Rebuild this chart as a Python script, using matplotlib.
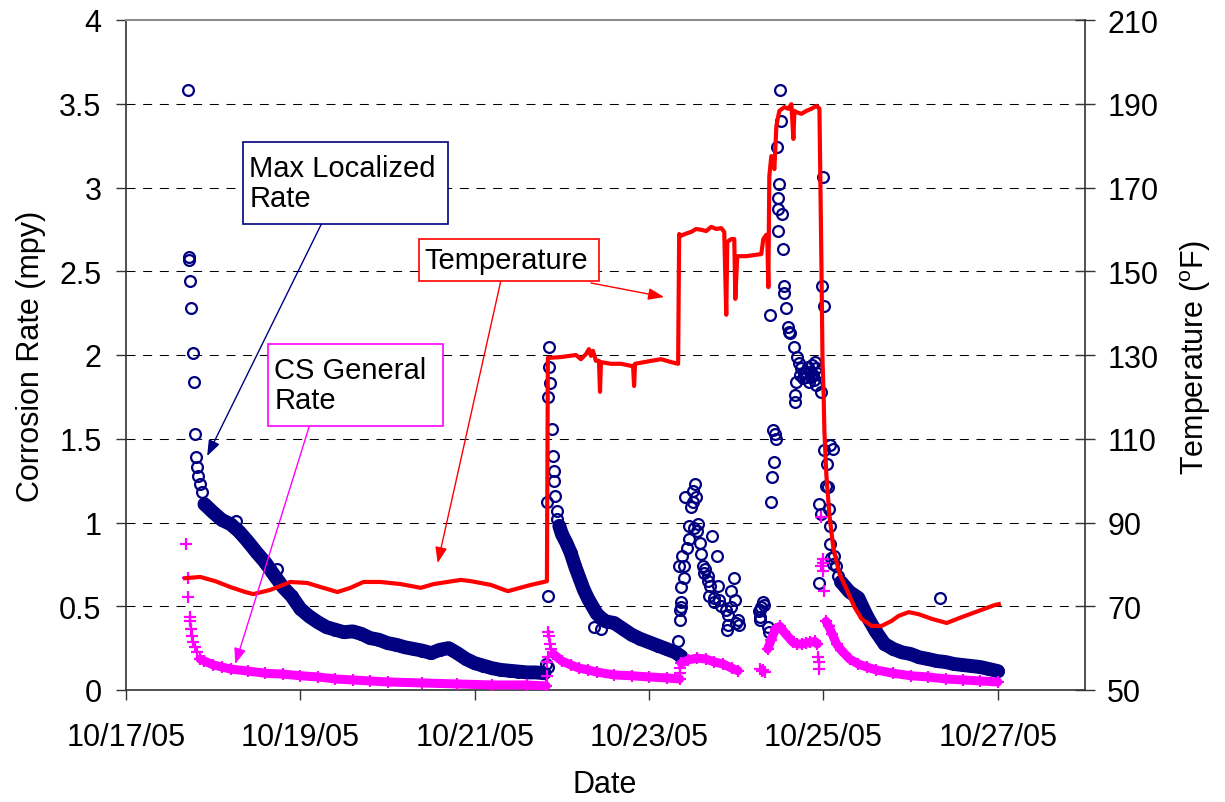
import numpy as np
import matplotlib
matplotlib.use("Agg")
import matplotlib.pyplot as plt
import matplotlib.dates as mdates
from matplotlib.patches import Rectangle

plt.rcParams['font.family'] = ['Liberation Sans', 'DejaVu Sans']
plt.rcParams['mathtext.fontset'] = 'custom'
plt.rcParams['mathtext.rm'] = 'Liberation Sans'

# ---------------- data (day of October 2005, value) ----------------
# Max Localized Rate (mpy) - dense stretches
navy_band1 = [(17.9, 1.11), (18.0, 1.06), (18.1, 1.015), (18.2, 0.99), (18.3, 0.945),
              (18.4, 0.885), (18.5, 0.82), (18.6, 0.76), (18.7, 0.685), (18.8, 0.615),
              (18.9, 0.56), (19.0, 0.485), (19.1, 0.44), (19.2, 0.405), (19.3, 0.375),
              (19.4, 0.36), (19.5, 0.345), (19.6, 0.35), (19.7, 0.335), (19.8, 0.31),
              (19.9, 0.30), (20.0, 0.28), (20.1, 0.27), (20.2, 0.255), (20.3, 0.245),
              (20.4, 0.235), (20.5, 0.22), (20.6, 0.24), (20.7, 0.25), (20.8, 0.22),
              (20.9, 0.185), (21.0, 0.16), (21.1, 0.145), (21.2, 0.13), (21.3, 0.12),
              (21.4, 0.115), (21.5, 0.11), (21.6, 0.105), (21.7, 0.105), (21.8, 0.10)]
navy_band2 = [(21.97, 0.98), (22.0, 0.93), (22.05, 0.88), (22.1, 0.82), (22.15, 0.74),
              (22.2, 0.67), (22.25, 0.60), (22.3, 0.545), (22.35, 0.50), (22.4, 0.455),
              (22.45, 0.43), (22.5, 0.41), (22.6, 0.40), (22.7, 0.365), (22.8, 0.33),
              (22.9, 0.305), (23.0, 0.285), (23.1, 0.265), (23.2, 0.245), (23.3, 0.225),
              (23.37, 0.20)]
navy_band3 = [(25.2, 0.645), (25.3, 0.585), (25.4, 0.55), (25.5, 0.44), (25.6, 0.35),
              (25.7, 0.275), (25.8, 0.245), (25.9, 0.225), (26.0, 0.215), (26.1, 0.195),
              (26.2, 0.185), (26.3, 0.173), (26.4, 0.167), (26.5, 0.155), (26.6, 0.149),
              (26.7, 0.143), (26.8, 0.137), (26.9, 0.125), (27.0, 0.113)]
# Max Localized Rate - isolated readings
navy_points = [(17.713, 3.58), (17.724, 2.585), (17.725, 2.57), (17.736, 2.44), (17.747, 2.28),
               (17.770, 2.01), (17.780, 1.84), (17.793, 1.53), (17.805, 1.39), (17.816, 1.33),
               (17.828, 1.28), (17.850, 1.23), (17.874, 1.18), (18.264, 1.01), (18.736, 0.72),
               (21.816, 0.155), (21.839, 0.137), (21.839, 0.56), (21.851, 2.05), (21.851, 1.93),
               (21.862, 1.83), (21.839, 1.75), (21.885, 1.56), (21.897, 1.40), (21.908, 1.31),
               (21.908, 1.25), (21.920, 1.16), (21.828, 1.12), (21.943, 1.07), (21.943, 1.02),
               (22.368, 0.375), (22.448, 0.364),
               (23.333, 0.29), (23.356, 0.42), (23.356, 0.48), (23.368, 0.495), (23.368, 0.525),
               (23.368, 0.615), (23.345, 0.74), (23.379, 0.80), (23.402, 0.67), (23.402, 0.74),
               (23.437, 0.85), (23.460, 0.90), (23.460, 0.98), (23.414, 1.15), (23.483, 1.09),
               (23.506, 1.12), (23.506, 1.19), (23.529, 1.23), (23.540, 1.15), (23.563, 0.99),
               (23.517, 0.97), (23.552, 0.95), (23.586, 0.88), (23.598, 0.81), (23.621, 0.74),
               (23.644, 0.72), (23.632, 0.70), (23.678, 0.68), (23.678, 0.65), (23.701, 0.62),
               (23.690, 0.56), (23.747, 0.55), (23.805, 0.54), (23.747, 0.525), (23.828, 0.50),
               (23.885, 0.48), (23.943, 0.495), (23.908, 0.45), (24.023, 0.42), (24.000, 0.40),
               (23.908, 0.39), (23.897, 0.36), (24.034, 0.39), (23.724, 0.92), (23.782, 0.80),
               (23.793, 0.62), (23.943, 0.59), (23.977, 0.67), (23.989, 0.54),
               (24.276, 0.48), (24.276, 0.42), (24.310, 0.525), (24.287, 0.495), (24.264, 0.47),
               (24.276, 0.435), (24.322, 0.51), (24.368, 0.375), (24.379, 0.346),
               (24.391, 2.24), (24.402, 1.12), (24.414, 1.27), (24.437, 1.36), (24.425, 1.55),
               (24.448, 1.53), (24.460, 1.50), (24.471, 3.24), (24.483, 2.94), (24.483, 2.87),
               (24.483, 2.74), (24.494, 3.02), (24.506, 3.58), (24.517, 3.40), (24.529, 2.84),
               (24.540, 2.63), (24.552, 2.41), (24.552, 2.37), (24.575, 2.28), (24.598, 2.17),
               (24.609, 2.14), (24.621, 2.13), (24.667, 2.05), (24.701, 1.99), (24.724, 1.95),
               (24.747, 1.92), (24.782, 1.89), (24.805, 1.87), (24.862, 1.87), (24.908, 1.96),
               (24.920, 1.92), (24.897, 1.85), (24.839, 1.84), (24.690, 1.84), (24.678, 1.76),
               (24.678, 1.72), (24.977, 1.78), (24.920, 1.82), (24.989, 2.41), (25.011, 2.29),
               (25.000, 3.06), (25.080, 1.46), (25.115, 1.44), (25.011, 1.43), (25.046, 1.35),
               (25.034, 1.22), (25.057, 1.21), (24.954, 1.11), (24.977, 1.05), (25.069, 1.08),
               (25.080, 0.98), (25.080, 0.87), (25.126, 0.80), (24.954, 0.64), (25.149, 0.74),
               (25.172, 0.68), (24.760, 1.86), (24.820, 1.93), (24.850, 1.90), (24.880, 1.88),
               (24.870, 1.94), (24.800, 1.90), (24.730, 1.88), (24.930, 1.89), (25.092, 0.79),
               (25.115, 0.75), (26.333, 0.55)]

# CS General Rate (mpy) - dense stretches
mag_band1 = [(17.85, 0.185), (17.9, 0.173), (18.0, 0.15), (18.1, 0.137), (18.2, 0.125),
             (18.4, 0.113), (18.6, 0.10), (18.8, 0.095), (19.0, 0.085), (19.2, 0.078),
             (19.4, 0.066), (19.6, 0.06), (19.8, 0.054), (20.0, 0.048), (20.4, 0.042),
             (20.8, 0.036), (21.2, 0.03), (21.6, 0.03), (21.82, 0.024)]
mag_band2 = [(21.9, 0.215), (22.0, 0.173), (22.1, 0.15), (22.2, 0.13), (22.3, 0.12),
             (22.4, 0.107), (22.6, 0.09), (22.8, 0.085), (23.0, 0.078), (23.2, 0.072),
             (23.35, 0.066)]
mag_band3 = [(23.37, 0.16), (23.45, 0.18), (23.55, 0.19), (23.65, 0.185), (23.75, 0.167),
             (23.85, 0.155), (23.95, 0.13), (24.02, 0.115)]
mag_band4 = [(24.36, 0.245), (24.40, 0.30), (24.45, 0.365), (24.50, 0.38), (24.55, 0.345),
             (24.60, 0.315), (24.65, 0.285), (24.70, 0.275), (24.75, 0.275), (24.80, 0.28),
             (24.85, 0.285), (24.90, 0.29), (24.93, 0.275)]
mag_band5 = [(25.03, 0.41), (25.06, 0.38), (25.1, 0.335), (25.15, 0.275), (25.2, 0.24),
             (25.3, 0.185), (25.4, 0.155), (25.5, 0.137), (25.6, 0.12), (25.8, 0.10),
             (26.0, 0.085), (26.2, 0.078), (26.4, 0.066), (26.6, 0.06), (26.8, 0.054),
             (27.0, 0.048)]
# CS General Rate - isolated readings
mag_points = [(17.690, 0.87), (17.713, 0.67), (17.713, 0.555), (17.736, 0.435), (17.736, 0.41),
              (17.747, 0.364), (17.759, 0.32), (17.770, 0.285), (17.793, 0.257), (17.816, 0.225),
              (21.828, 0.085), (21.828, 0.167), (21.839, 0.20), (21.839, 0.346), (21.851, 0.32),
              (21.862, 0.275), (21.874, 0.245), (23.36, 0.10), (23.36, 0.13),
              (24.27, 0.125), (24.29, 0.115), (24.31, 0.12), (24.33, 0.11),
              (24.943, 0.20), (24.954, 0.17), (24.954, 0.125), (25.0, 0.78), (24.977, 0.74),
              (25.0, 0.71), (25.011, 0.59), (24.977, 1.03), (25.0, 0.76)]

# Temperature (F)
temp_readings = [(17.678, 76.7), (17.851, 77.0), (18.023, 76.0), (18.195, 74.6), (18.368, 73.4),
                 (18.46, 72.9), (18.655, 73.9), (18.885, 75.8), (19.08, 75.55), (19.23, 74.6),
                 (19.425, 73.4), (19.575, 74.4), (19.724, 75.8), (19.92, 75.8), (20.15, 75.3),
                 (20.38, 74.4), (20.53, 75.3), (20.84, 76.3), (20.954, 76.0), (21.184, 75.1),
                 (21.38, 73.6), (21.644, 75.1), (21.793, 75.8), (21.828, 76.0), (21.839, 129.3),
                 (21.989, 129.5), (22.161, 130.0), (22.218, 129.0), (22.276, 130.2), (22.31, 131.4),
                 (22.333, 129.8), (22.356, 131.0), (22.39, 128.6), (22.425, 128.6), (22.437, 121.2),
                 (22.448, 128.3), (22.563, 127.9), (22.678, 127.9), (22.793, 127.4), (22.816, 127.4),
                 (22.828, 122.6), (22.839, 127.9), (23.023, 128.6), (23.138, 129.0), (23.253, 128.3),
                 (23.333, 127.9), (23.345, 158.9), (23.356, 158.4), (23.425, 159.0), (23.483, 159.4),
                 (23.54, 160.1), (23.598, 159.9), (23.655, 159.6), (23.713, 160.6), (23.77, 160.1),
                 (23.828, 160.3), (23.862, 159.4), (23.885, 139.6), (23.897, 157.0), (23.943, 157.7),
                 (23.977, 157.7), (23.989, 143.4), (24.011, 153.6), (24.115, 153.6), (24.287, 154.1),
                 (24.31, 157.7), (24.345, 158.7), (24.356, 157.7), (24.368, 146.2), (24.379, 172.7),
                 (24.402, 177.5), (24.437, 174.4), (24.46, 184.7), (24.494, 188.3), (24.552, 189.2),
                 (24.598, 188.8), (24.632, 189.9), (24.655, 181.6), (24.667, 188.3), (24.69, 188.0),
                 (24.747, 187.6), (24.805, 188.3), (24.862, 188.8), (24.92, 189.5), (24.954, 188.8),
                 (24.977, 151.3), (24.989, 129.0), (25.001, 121.2), (25.011, 111.6), (25.034, 101.1),
                 (25.069, 91.6), (25.115, 83.7), (25.184, 77.7), (25.264, 74.1), (25.356, 69.8),
                 (25.437, 67.0), (25.552, 65.3), (25.667, 65.3), (25.782, 66.5), (25.862, 67.7),
                 (25.977, 68.6), (26.092, 68.1), (26.241, 67.0), (26.414, 66.0), (26.586, 67.4),
                 (26.782, 68.9), (26.966, 70.3), (27.011, 70.5)]

left_ticks = [0, 0.5, 1, 1.5, 2, 2.5, 3, 3.5, 4]
left_labels = ['0', '0.5', '1', '1.5', '2', '2.5', '3', '3.5', '4']
right_ticks = [50, 70, 90, 110, 130, 150, 170, 190, 210]
x_tick_days = [17, 19, 21, 23, 25, 27]
x_tick_labels = ['10/17/05', '10/19/05', '10/21/05', '10/23/05', '10/25/05', '10/27/05']

NAVY = '#000080'
MAG = '#FF00FF'
RED = '#FF0000'

BASE = mdates.date2num(np.datetime64('2005-10-01T00:00'))


def tx(days):
    return BASE + np.asarray(days, dtype=float) - 1.0


def split(pairs):
    d, v = zip(*pairs)
    return tx(d), np.array(v)


fig = plt.figure(figsize=(12.25, 8.03), dpi=100)
ax = fig.add_axes([126 / 1225, 1 - 691 / 803, 959 / 1225, 670 / 803])
ax2 = ax.twinx()

CIRCLE = dict(marker='o', mfc='none', mec=NAVY, ms=7.8, mew=1.6, ls='none', zorder=3)
CROSS = dict(marker='+', color=MAG, ms=9, mew=1.6, ls='none', zorder=4)

# navy bands
for band in (navy_band1, navy_band2, navy_band3):
    x, y = split(band)
    ax.plot(x, y, color=NAVY, lw=10, solid_capstyle='round', solid_joinstyle='round', zorder=2)
    ax.plot(x, y, **CIRCLE)
x, y = split(navy_points)
ax.plot(x, y, **CIRCLE)

# magenta
for band in (mag_band1, mag_band2, mag_band3, mag_band4, mag_band5):
    x, y = split(band)
    ax.plot(x, y, color=MAG, lw=6.5, solid_capstyle='round', solid_joinstyle='round', zorder=4)
    ax.plot(x, y, **CROSS)
x, y = split(mag_points)
ax.plot(x, y, **CROSS)

# temperature
x, y = split(temp_readings)
ax2.plot(x, y, color=RED, lw=3, solid_joinstyle='round', zorder=5)

# axes limits / ticks
ax.set_xlim(tx(17), tx(28))
ax.set_ylim(0, 4)
ax2.set_ylim(50, 210)
ax.set_xticks(tx(x_tick_days))
ax.set_xticklabels(x_tick_labels)
ax.set_yticks(left_ticks)
ax.set_yticklabels(left_labels)
ax2.set_yticks(right_ticks)
ax2.set_yticklabels([str(t) for t in right_ticks])

ax.tick_params(axis='y', direction='out', length=7.2, width=1, pad=10.5,
               labelsize=22, color='#333333')
ax.tick_params(axis='x', direction='out', length=7.2, width=1, pad=16,
               labelsize=22, color='#333333')
ax2.tick_params(axis='y', direction='inout', length=14, width=1, pad=9,
                labelsize=22, color='#333333')

ax.yaxis.grid(True, color='black', lw=0.75, linestyle=(0, (8.6, 7.4)))
gl = ax.get_ygridlines()
gl[0].set_visible(False)
gl[-1].set_visible(False)
ax.set_axisbelow(True)

for s in ('left', 'bottom'):
    ax.spines[s].set_color('#333333')
    ax.spines[s].set_linewidth(1.2)
ax.spines['right'].set_visible(False)
ax.spines['top'].set_color('#8c8c8c')
ax.spines['top'].set_linewidth(1.5)
for s in ('left', 'bottom', 'top'):
    ax2.spines[s].set_visible(False)
ax2.spines['right'].set_color('#333333')
ax2.spines['right'].set_linewidth(1.2)

# axis titles
fig.text(31 / 1225, 1 - 356 / 803, 'Corrosion Rate (mpy)', rotation=90,
         ha='center', va='center', fontsize=22)
fig.text(1196 / 1225, 1 - 357 / 803, r'Temperature ($^{\rm o}$F)', rotation=90,
         ha='center', va='center', fontsize=22)
fig.text(605 / 1225, 1 - 785 / 803, 'Date', ha='center', va='center', fontsize=22)

# annotation boxes
T = ax.transData
boxes = [
    (18.345, 2.782, 2.345, 0.490, NAVY, 18.414, 3.027, 'Max Localized\nRate'),
    (20.356, 2.442, 2.069, 0.251, RED, 20.425, 2.567, 'Temperature'),
    (18.632, 1.576, 2.000, 0.490, MAG, 18.701, 1.821, 'CS General\nRate'),
]
for bx, by, bw, bh, col, txx, tyy, label in boxes:
    r = Rectangle((tx(bx), by), bw, bh, transform=T, facecolor='white',
                  edgecolor=col, lw=1.2, zorder=10, clip_on=False)
    ax2.add_patch(r)
    ax2.text(tx(txx), tyy, label, transform=T, ha='left', va='center',
             fontsize=21, zorder=11, linespacing=1.05)

arrows = [
    ((19.241, 2.782), (17.931, 1.397), NAVY),
    ((22.333, 2.430), (23.172, 2.346), RED),
    ((21.299, 2.442), (20.575, 0.758), RED),
    ((19.103, 1.576), (18.253, 0.155), MAG),
]
for (sx, sy), (ex, ey), col in arrows:
    ax2.annotate('', xy=(tx(ex), ey), xytext=(tx(sx), sy), xycoords=T, textcoords=T,
                 arrowprops=dict(arrowstyle='-|>,head_length=0.8,head_width=0.3',
                                 mutation_scale=12, color=col, lw=1.0,
                                 shrinkA=0, shrinkB=0), zorder=9)

ax2.set_ylim(50, 210)
ax.set_xlim(tx(17), tx(28))

fig.savefig('out.png', dpi=100)
